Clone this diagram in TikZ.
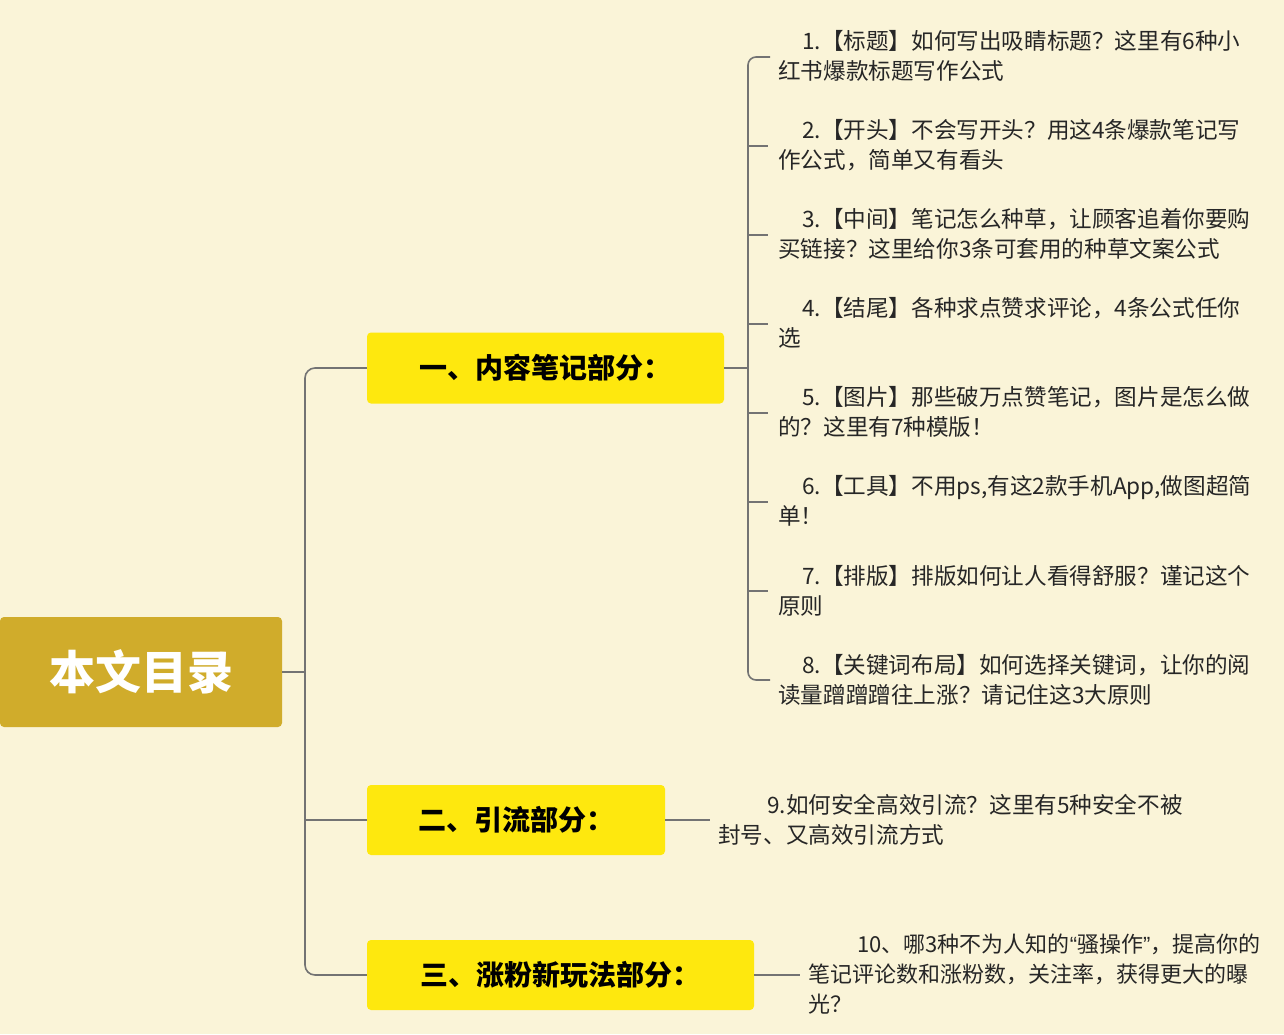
\documentclass[tikz,border=0pt]{standalone}
\usepackage{fontspec}
\setmainfont{Noto Sans CJK SC}
\newfontfamily\latq{Liberation Sans}
\begin{document}
\begin{tikzpicture}[x=1pt,y=-1pt,
 conn/.style={draw=black!55,line width=1.6pt,rounded corners=10pt},
 item/.style={anchor=north west,inner sep=0pt,align=left,font=\fontsize{22.6}{30}\selectfont,text=black!85},
 branch/.style={fill=yellow!90!orange!95,rounded corners=4pt,font=\fontsize{28}{30}\selectfont\bfseries,inner sep=0pt}]
\fill[yellow!10!white!92!brown] (0,0) rectangle (1284,1034);
\useasboundingbox (0,0) rectangle (1284,1034);
\node[fill=yellow!60!orange!80!black,rounded corners=4pt,minimum width=282pt,minimum height=110pt,text=white,font=\fontsize{46}{48}\selectfont\bfseries] (root) at (141,672) {本文目录};
\node[branch,minimum width=357pt,minimum height=71pt] (b1) at (545.5,368) {一、内容笔记部分：};
\node[branch,minimum width=298pt,minimum height=70pt] (b2) at (516,820) {二、引流部分：};
\node[branch,minimum width=387pt,minimum height=70pt] (b3) at (560.5,975) {三、涨粉新玩法部分：};
\coordinate (j) at (305,672);
\draw[conn] (root.east) -- (j);
\draw[conn] (b1.west) -- (305,368) -- (305,975) -- (b3.west);
\draw[conn] (305,820) -- (b2.west);
% items
\node[item] (i1) at (778,30) {\hspace{24pt}1.【标题】如何写出吸睛标题？这里有6种小\\红书爆款标题写作公式};
\node[item] (i2) at (778,119) {\hspace{24pt}2.【开头】不会写开头？用这4条爆款笔记写\\作公式，简单又有看头};
\node[item] (i3) at (778,208) {\hspace{24pt}3.【中间】笔记怎么种草，让顾客追着你要购\\买链接？这里给你3条可套用的种草文案公式};
\node[item] (i4) at (778,297) {\hspace{24pt}4.【结尾】各种求点赞求评论，4条公式任你\\选};
\node[item] (i5) at (778,386) {\hspace{24pt}5.【图片】那些破万点赞笔记，图片是怎么做\\的？这里有7种模版！};
\node[item] (i6) at (778,475) {\hspace{24pt}6.【工具】不用ps,有这2款手机App,做图超简\\单！};
\node[item] (i7) at (778,565) {\hspace{24pt}7.【排版】排版如何让人看得舒服？谨记这个\\原则};
\node[item] (i8) at (778,654) {\hspace{24pt}8.【关键词布局】如何选择关键词，让你的阅\\读量蹭蹭蹭往上涨？请记住这3大原则};
\node[item] (i9) at (718,794) {\hspace{49pt}9.如何安全高效引流？这里有5种安全不被\\封号、又高效引流方式};
\node[item,font=\fontsize{22}{30}\selectfont] (i10) at (808,934) {\hspace{49pt}10、哪3种不为人知的{\latq “}骚操作{\latq ”}，提高你的\\笔记评论数和涨粉数，关注率，获得更大的曝\\光？};
\draw[conn] (b1.east) -- (748,368);
\draw[conn,rounded corners=8pt] (770,57) -- (748,57) -- (748,680) -- (770,680);
\foreach \y in {146,235,324,413,502,591}{\draw[conn,rounded corners=0pt] (748,\y) -- (768,\y);}
\draw[conn] (b2.east) -- (710,820);
\draw[conn] (b3.east) -- (800,975);
\end{tikzpicture}
\end{document}
